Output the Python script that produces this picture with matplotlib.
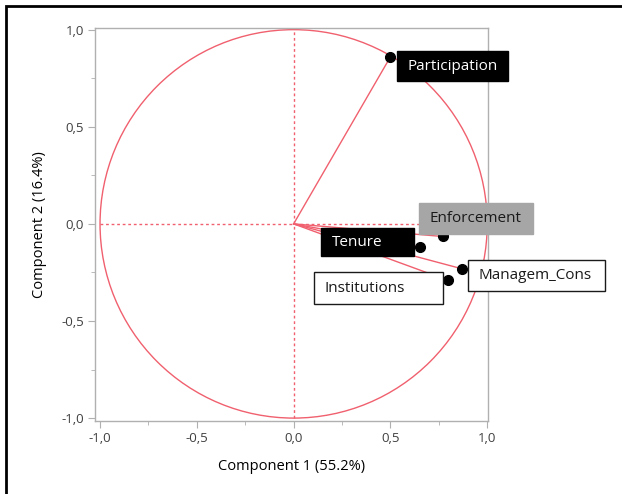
import numpy as np
import matplotlib.pyplot as plt
from matplotlib.patches import Rectangle, Circle

# loadings on the first two components
variables = ['Participation', 'Enforcement', 'Tenure', 'Institutions', 'Managem_Cons']
comp1 = [0.50, 0.77, 0.655, 0.795, 0.872]
comp2 = [0.86, -0.065, -0.12, -0.29, -0.232]

x_label = 'Component 1 (55.2%)'
y_label = 'Component 2 (16.4%)'
tick_vals = [-1.0, -0.5, 0.0, 0.5, 1.0]
tick_text = ['-1,0', '-0,5', '0,0', '0,5', '1,0']

# label boxes: (x0, x1, y_bottom, y_top, text_x), face, text colour, edge
label_boxes = {
    'Participation': ((0.533, 1.106, 0.736, 0.888, 0.590), 'black', 'white', 'black'),
    'Enforcement':   ((0.646, 1.235, -0.054, 0.106, 0.703), '#a6a6a6', '#1a1a1a', '#a6a6a6'),
    'Tenure':        ((0.141, 0.621, -0.167, -0.023, 0.197), 'black', 'white', 'black'),
    'Institutions':  ((0.104, 0.770, -0.414, -0.249, 0.161), 'white', '#1a1a1a', '#1a1a1a'),
    'Managem_Cons':  ((0.903, 1.606, -0.347, -0.184, 0.956), 'white', '#1a1a1a', '#1a1a1a'),
}

red = '#f0606e'
grey = '#b0b0b0'

fig = plt.figure(figsize=(6.22, 4.94), dpi=100)
ax = fig.add_axes([95 / 622, 1 - 421 / 494, 393 / 622, (421 - 28.5) / 494])

# unit circle and dotted axes through the origin
ax.add_patch(Circle((0, 0), 1.0, fill=False, edgecolor=red, lw=1.0, zorder=2))
ax.plot([0, 0], [-1, 1], color=red, lw=1.0, ls=(0, (2, 2)), zorder=2)
ax.plot([-1, 1], [0, 0], color=red, lw=1.0, ls=(0, (2, 2)), zorder=2)

# vectors from origin to each loading
for x, y in zip(comp1, comp2):
    ax.plot([0, x], [0, y], color=red, lw=1.0, zorder=3)
ax.plot(comp1, comp2, 'o', color='black', ms=7, zorder=4)

for name in variables:
    (x0, x1, y0, y1, tx), face, tc, ec = label_boxes[name]
    ax.add_patch(Rectangle((x0, y0), x1 - x0, y1 - y0, facecolor=face,
                           edgecolor=ec, lw=1.0, zorder=5, clip_on=False))
    ax.text(tx, (y0 + y1) / 2, name, color=tc, fontsize=11, family='Open Sans',
            ha='left', va='center', zorder=6, clip_on=False)

ax.set_xlim(-1.026, 1.004)
ax.set_ylim(-1.015, 1.006)
ax.set_xticks(tick_vals)
ax.set_xticklabels(tick_text)
ax.set_yticks(tick_vals)
ax.set_yticklabels(tick_text)
ax.set_xticks(np.arange(-1.0, 1.01, 0.25), minor=True)
ax.set_yticks(np.arange(-1.0, 1.01, 0.25), minor=True)
ax.tick_params(which='major', length=5, color=grey, labelsize=9.5,
               labelcolor='#404040', pad=3)
ax.tick_params(which='minor', length=3, color=grey)
for lab in ax.get_xticklabels() + ax.get_yticklabels():
    lab.set_family('Open Sans')
# zero ticks carry on the dotted red guides
ax.xaxis.get_major_ticks()[2].tick1line.set_color(red)
ax.yaxis.get_major_ticks()[2].tick1line.set_color(red)

for sp in ax.spines.values():
    sp.set_color(grey)
    sp.set_linewidth(1.0)

ax.set_xlabel(x_label, fontsize=10.5, family='Open Sans', labelpad=10)
ax.set_ylabel(y_label, fontsize=10.5, family='Open Sans', labelpad=10)

# black frame along the top and left edges
fig.add_artist(Rectangle((6 / 622, -0.5), 2.0, 0.5 + 1 - 6 / 494, transform=fig.transFigure,
                         fill=False, edgecolor='black', lw=2.0, clip_on=False))

fig.savefig('out.png', dpi=100)
